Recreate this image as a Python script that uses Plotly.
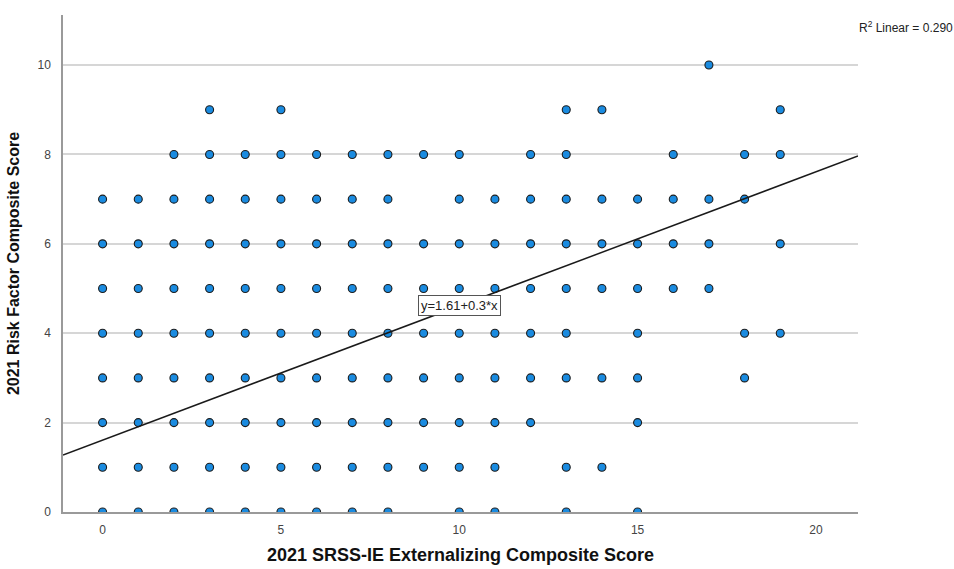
import plotly.graph_objects as go

# Observed (externalizing, risk factor) score pairs, grouped by risk factor score
rows = {
    10: [17],
    9: [3, 5, 13, 14, 19],
    8: [2, 3, 4, 5, 6, 7, 8, 9, 10, 12, 13, 16, 18, 19],
    7: [0, 1, 2, 3, 4, 5, 6, 7, 8, 10, 11, 12, 13, 14, 15, 16, 17, 18],
    6: [0, 1, 2, 3, 4, 5, 6, 7, 8, 9, 10, 11, 12, 13, 14, 15, 16, 17, 19],
    5: [0, 1, 2, 3, 4, 5, 6, 7, 8, 9, 10, 11, 12, 13, 14, 15, 16, 17],
    4: [0, 1, 2, 3, 4, 5, 6, 7, 8, 9, 10, 11, 12, 13, 15, 18, 19],
    3: [0, 1, 2, 3, 4, 5, 6, 7, 8, 9, 10, 11, 12, 13, 14, 15, 18],
    2: [0, 1, 2, 3, 4, 5, 6, 7, 8, 9, 10, 11, 12, 15],
    1: [0, 1, 2, 3, 4, 5, 6, 7, 8, 9, 10, 11, 13, 14],
    0: [0, 1, 2, 3, 4, 5, 6, 7, 8, 10, 11, 13, 15],
}

externalizing = [x for y, xs in rows.items() for x in xs]
risk_factor = [y for y, xs in rows.items() for _ in xs]

# Linear fit reported for the data
intercept = 1.61
slope = 0.3
r_squared = 0.290

x_ticks = [0, 5, 10, 15, 20]
y_ticks = [0, 2, 4, 6, 8, 10]

x_range = [-1.11, 21.18]
y_range = [0, 11.12]

FONT = "Liberation Sans, Arial, sans-serif"

fig = go.Figure()

fig.add_trace(go.Scatter(
    x=externalizing,
    y=risk_factor,
    mode="markers",
    marker=dict(size=8, color="#1a8be0", line=dict(color="#1c1c1c", width=1.1)),
    showlegend=False,
    hoverinfo="x+y",
))

fit_x = list(x_range)
fit_y = [intercept + slope * v for v in fit_x]
fig.add_trace(go.Scatter(
    x=fit_x, y=fit_y, mode="lines",
    line=dict(color="#1a1a1a", width=1.5),
    showlegend=False, hoverinfo="skip",
))

# fit equation, boxed, sitting on the line at x = 10
fig.add_annotation(
    x=10, y=intercept + slope * 10, xref="x", yref="y",
    text=f"y={intercept}+{slope}*x",
    showarrow=False,
    font=dict(family=FONT, size=13, color="#222"),
    bgcolor="white", bordercolor="#555", borderwidth=1, borderpad=2,
)

# R² note at the top right, just outside the plot area
fig.add_annotation(
    x=0.999, y=0.976, xref="paper", yref="paper",
    text=f"R<sup>2</sup> Linear = {r_squared:.3f}",
    showarrow=False, xanchor="left", yanchor="middle",
    font=dict(family=FONT, size=12, color="#222"),
)

fig.update_layout(
    width=954, height=569,
    margin=dict(l=63, r=96, t=15, b=57),
    paper_bgcolor="white", plot_bgcolor="white",
    font=dict(family=FONT, size=12, color="#444"),
    xaxis=dict(
        range=x_range, tickvals=x_ticks, showgrid=False, zeroline=False,
        showline=True, linecolor="#9a9a9a", linewidth=1.5,
        ticks="", ticklabelstandoff=6, automargin=False,
        title=dict(text="<b>2021 SRSS-IE Externalizing Composite Score</b>",
                   font=dict(size=18, color="#111"), standoff=12),
    ),
    yaxis=dict(
        range=y_range, tickvals=y_ticks, showgrid=True, gridcolor="#d6d6d6", gridwidth=1.5,
        zeroline=False, showline=True, linecolor="#9a9a9a", linewidth=1.5,
        ticks="", ticklabelstandoff=8, automargin=False,
        title=dict(text="<b>2021 Risk Factor Composite Score</b>",
                   font=dict(size=16, color="#111"), standoff=14),
    ),
)

fig.write_html("out.html")
